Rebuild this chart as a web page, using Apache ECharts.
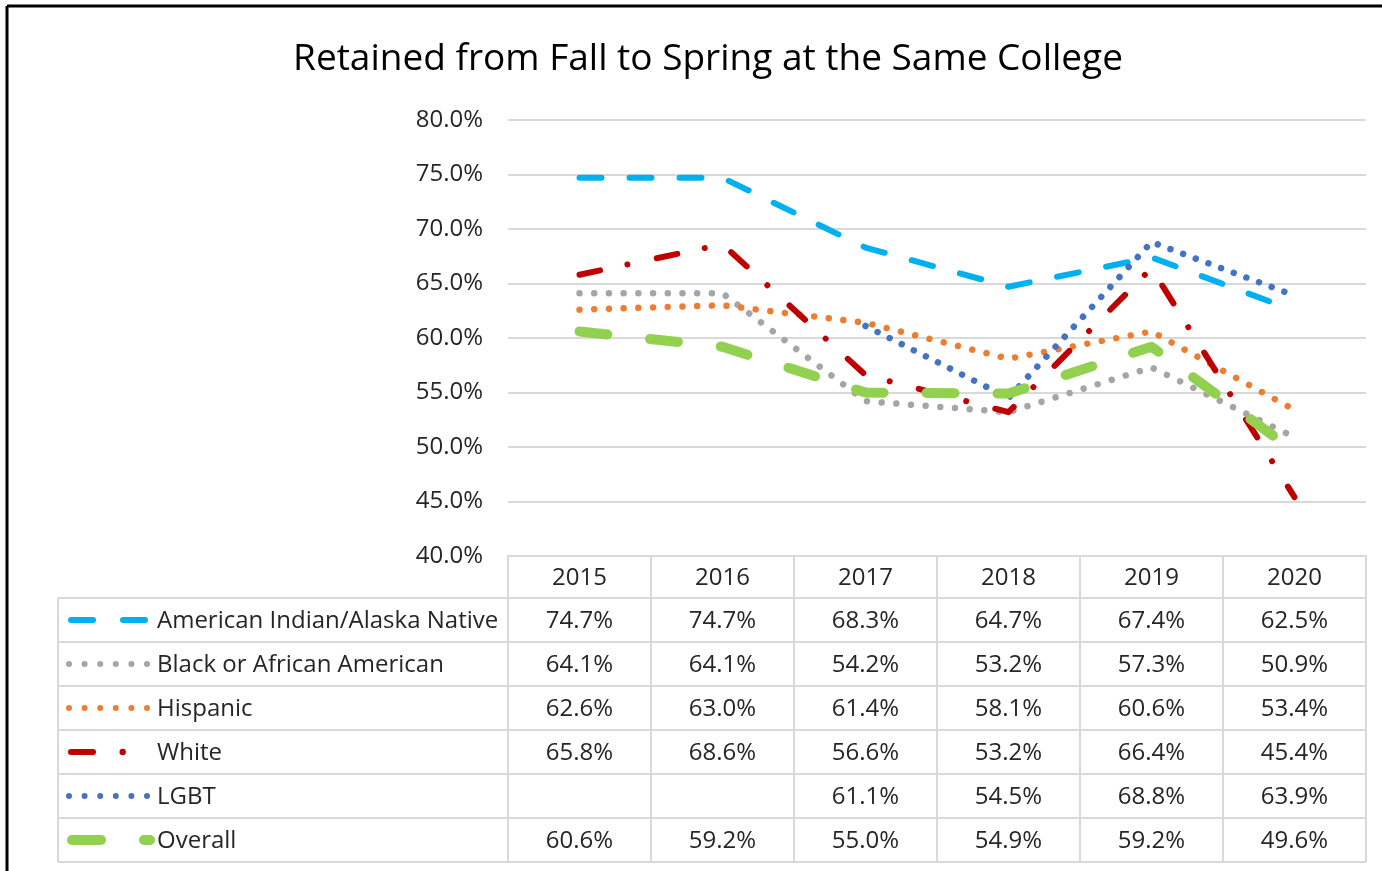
<!DOCTYPE html>
<html>
<head>
<meta charset="utf-8">
<script src="https://cdn.jsdelivr.net/npm/echarts@6/dist/echarts.min.js"></script>
<style>
html,body{margin:0;padding:0;background:#fff;}
#main{width:1382px;height:871px;}
</style>
</head>
<body>
<div id="main"></div>
<script>
// ---- data ----
const categories = ['2015', '2016', '2017', '2018', '2019', '2020'];
const seriesNames = ['American Indian/Alaska Native', 'Black or African American', 'Hispanic', 'White', 'LGBT', 'Overall'];
const aian     = [74.7, 74.7, 68.3, 64.7, 67.4, 62.5];
const black    = [64.1, 64.1, 54.2, 53.2, 57.3, 50.9];
const hispanic = [62.6, 63.0, 61.4, 58.1, 60.6, 53.4];
const white    = [65.8, 68.6, 56.6, 53.2, 66.4, 45.4];
const lgbt     = [null, null, 61.1, 54.5, 68.8, 63.9];
const overall  = [60.6, 59.2, 55.0, 54.9, 59.2, 49.6];
const yTicks   = [40, 45, 50, 55, 60, 65, 70, 75, 80];

const FONT = '"Open Sans", "Noto Sans", sans-serif';
const TXT = '#262626';
const GRID = '#d9d9d9';
const colors = ['#00b0f0', '#a5a5a5', '#ed7d31', '#c00000', '#4472c4', '#92d050'];
const widths = [6, 6.5, 6.5, 6, 6.5, 10];
const dashes = [[22, 28], [0.01, 14.7], [0.01, 14.7], [21, 28, 0.01, 30], [0.01, 13.5], [28, 43]];
const allData = [aian, black, hispanic, white, lgbt, overall];

const chart = echarts.init(document.getElementById('main'), null, {renderer: 'canvas'});

const series = allData.map((d, i) => ({
  name: seriesNames[i],
  type: 'line',
  data: d,
  symbol: 'none',
  smooth: false,
  connectNulls: false,
  silent: true,
  animation: false,
  lineStyle: {color: colors[i], width: widths[i], type: dashes[i], cap: 'round', join: 'round'},
  z: 2 + i
}));

chart.setOption({
  animation: false,
  title: {
    text: 'Retained from Fall to Spring at the Same College',
    left: 703, top: 36, textAlign: 'center',
    textStyle: {fontFamily: FONT, fontSize: 37, fontWeight: 'normal', color: '#000'}
  },
  grid: {left: 508, right: 16, top: 120, bottom: 315, containLabel: false},
  xAxis: {
    type: 'category',
    data: categories,
    boundaryGap: true,
    axisLine: {show: true, lineStyle: {color: GRID, width: 2}},
    axisTick: {show: true, length: 306, lineStyle: {color: GRID, width: 2}},
    axisLabel: {fontFamily: FONT, fontSize: 24, color: TXT, margin: 10}
  },
  yAxis: {
    type: 'value',
    min: yTicks[0], max: yTicks[yTicks.length - 1], interval: 5,
    axisLine: {show: false},
    axisTick: {show: false},
    splitLine: {lineStyle: {color: GRID, width: 2}},
    axisLabel: {fontFamily: FONT, fontSize: 24, color: TXT, margin: 25, padding: [4, 0, 0, 0],
      formatter: v => v.toFixed(1) + '%'}
  },
  series: series
});

// ---- data table under the axis ----
function buildTable() {
  const centers = categories.map((c, i) => chart.convertToPixel({xAxisIndex: 0}, i));
  const band = centers[1] - centers[0];
  const xRight = centers[centers.length - 1] + band / 2;
  const yAxisBottom = chart.convertToPixel({yAxisIndex: 0}, yTicks[0]);
  const headerH = 42;
  const rowH = 44;
  const tableLeft = 58;
  const top0 = yAxisBottom + headerH;
  const els = [];
  // outer chart border (top & left)
  els.push({type: 'line', shape: {x1: 7, y1: 6, x2: 1382, y2: 6}, style: {stroke: '#000', lineWidth: 3}, silent: true});
  els.push({type: 'line', shape: {x1: 7, y1: 6, x2: 7, y2: 871}, style: {stroke: '#000', lineWidth: 3}, silent: true});
  // horizontal row lines
  for (let r = 0; r <= seriesNames.length; r++) {
    const y = top0 + r * rowH;
    els.push({type: 'line', shape: {x1: tableLeft, y1: y, x2: xRight, y2: y}, style: {stroke: GRID, lineWidth: 2}, silent: true});
  }
  // left border of legend column
  els.push({type: 'line', shape: {x1: tableLeft, y1: top0, x2: tableLeft, y2: top0 + seriesNames.length * rowH}, style: {stroke: GRID, lineWidth: 2}, silent: true});
  // rows
  seriesNames.forEach((name, r) => {
    const cy = top0 + r * rowH + rowH / 2;
    const col = colors[r];
    if (r === 0) {
      els.push({type: 'line', shape: {x1: 71, y1: cy, x2: 93, y2: cy}, style: {stroke: col, lineWidth: 6, lineCap: 'round'}, silent: true});
      els.push({type: 'line', shape: {x1: 123, y1: cy, x2: 145, y2: cy}, style: {stroke: col, lineWidth: 6, lineCap: 'round'}, silent: true});
    } else if (r === 1 || r === 2 || r === 4) {
      for (let k = 0; k < 6; k++) {
        els.push({type: 'circle', shape: {cx: 69 + k * 15.6, cy: cy, r: 3}, style: {fill: col}, silent: true});
      }
    } else if (r === 3) {
      els.push({type: 'line', shape: {x1: 71, y1: cy, x2: 93, y2: cy}, style: {stroke: col, lineWidth: 6, lineCap: 'round'}, silent: true});
      els.push({type: 'circle', shape: {cx: 122.7, cy: cy, r: 3.2}, style: {fill: col}, silent: true});
    } else if (r === 5) {
      els.push({type: 'line', shape: {x1: 72, y1: cy, x2: 101, y2: cy}, style: {stroke: col, lineWidth: 10, lineCap: 'round'}, silent: true});
      els.push({type: 'line', shape: {x1: 144, y1: cy, x2: 150, y2: cy}, style: {stroke: col, lineWidth: 10, lineCap: 'round'}, silent: true});
    }
    els.push({type: 'text', x: 157, y: cy + 1, style: {text: name, font: '24px ' + FONT, fill: TXT, textAlign: 'left', textVerticalAlign: 'middle'}, silent: true});
    allData[r].forEach((v, c) => {
      if (v == null) return;
      els.push({type: 'text', x: centers[c], y: cy + 1, style: {text: v.toFixed(1) + '%', font: '24px ' + FONT, fill: TXT, textAlign: 'center', textVerticalAlign: 'middle'}, silent: true});
    });
  });
  chart.setOption({graphic: {elements: els}});
}
buildTable();
</script>
</body>
</html>
